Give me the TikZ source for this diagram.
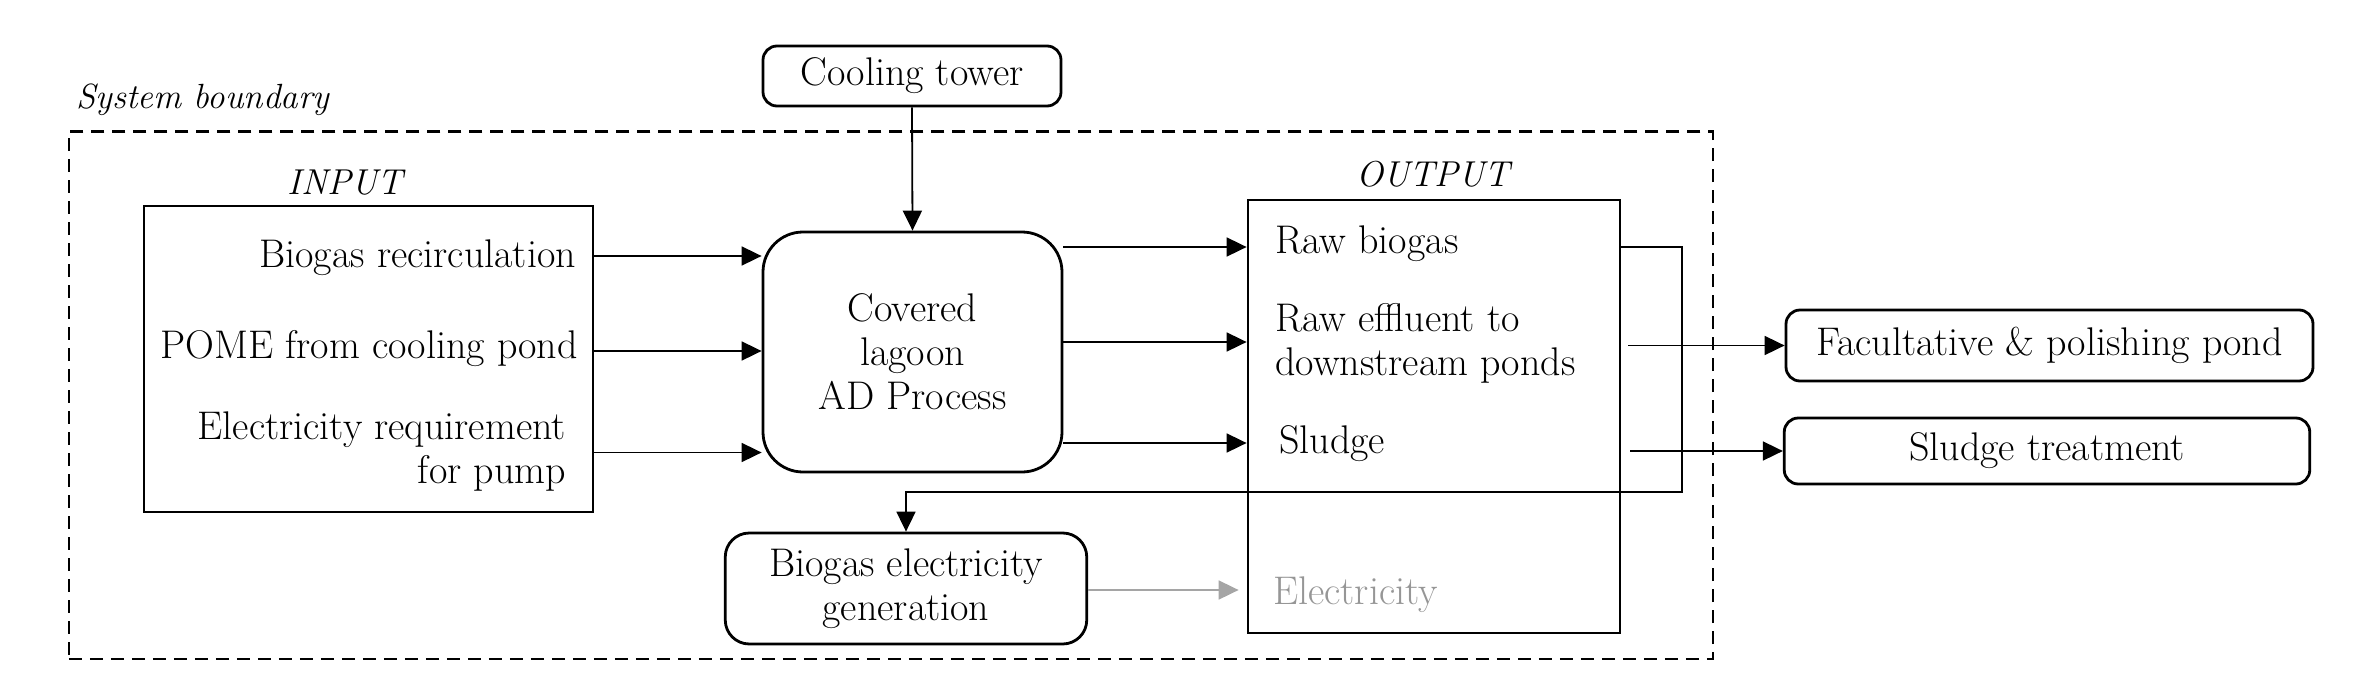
\documentclass[tikz,border=0pt]{standalone}
\usetikzlibrary{arrows.meta}
\definecolor{elgray}{RGB}{150,150,150}
\definecolor{argray}{RGB}{165,165,165}
\begin{document}
\begin{tikzpicture}[x=1pt,y=-1pt,
  txt/.style={font=\fontsize{40}{44}\selectfont, inner sep=0pt},
  rbox/.style={draw, line width=2.8pt, rounded corners=14pt, font=\fontsize{40}{44}\selectfont, align=center, inner sep=0pt},
  sbox/.style={draw, line width=2.8pt, inner sep=0pt},
  conn/.style={line width=1.8pt, -{Triangle[length=20pt,width=19pt]}},
  plain/.style={line width=1.8pt},
  head/.style={font=\fontsize{36}{44}\selectfont\itshape, inner sep=0pt},
]
\useasboundingbox (0,0) rectangle (2354,699);
% system boundary
\node[draw, line width=2.6pt, dash pattern=on 13pt off 8pt, minimum width=1644pt, minimum height=527.5pt, inner sep=0pt] (boundary) at (890.9,395.3) {};
\node[txt, font=\fontsize{35}{44}\selectfont\itshape, anchor=west] (sysb) at (76.5,100) {System boundary};
% top
\node[rbox, minimum width=298pt, minimum height=60pt] (tower) at (912,76) {Cooling tower};
% input
\node[head] (inlab) at (345,183) {INPUT};
\node[sbox, minimum width=449pt, minimum height=306pt] (inbox) at (368.5,359) {};
\node[txt, anchor=east] (in1) at (576,258) {Biogas recirculation};
\node[txt, anchor=east] (in2) at (578,349) {POME from cooling pond};
\node[txt, anchor=east, align=right] (in3) at (566,452) {Electricity requirement\\for pump};
% lagoon
\node[rbox, rounded corners=40pt, minimum width=299pt, minimum height=240pt] (lagoon) at (912.5,352) {Covered\\lagoon\\AD Process};
% output
\node[head] (outlab) at (1433,174) {OUTPUT};
\node[sbox, minimum width=372pt, minimum height=433pt] (outbox) at (1434,416.5) {};
\node[txt, anchor=west] (out1) at (1275,244) {Raw biogas};
\node[txt, anchor=west, align=left] (out2) at (1275,343.5) {Raw effluent to\\downstream ponds};
\node[txt, anchor=west] (out3) at (1279,443.6) {Sludge};
\node[txt, anchor=west, text=elgray] (out4) at (1273,595) {Electricity};
% generation
\node[rbox, rounded corners=24pt, minimum width=361.5pt, minimum height=111pt] (gen) at (906,588.5) {Biogas electricity\\generation};
% right boxes
\node[rbox, minimum width=527pt, minimum height=71pt] (fac) at (2049.5,345.5) {Facultative \& polishing pond};
\node[rbox, minimum width=525.5pt, minimum height=66pt] (sludge) at (2047,451) {Sludge treatment};
% connectors
\draw[conn] (tower.south) -- (lagoon.north);
\draw[conn] (inbox.east |- 0,256) -- (lagoon.west |- 0,256);
\draw[conn] (inbox.east |- 0,351) -- (lagoon.west |- 0,351);
\draw[conn] (inbox.east |- 0,452.5) -- (lagoon.west |- 0,452.5);
\draw[conn] (lagoon.east |- 0,247) -- (outbox.west |- 0,247);
\draw[conn] (lagoon.east |- 0,342) -- (outbox.west |- 0,342);
\draw[conn] (lagoon.east |- 0,443) -- (outbox.west |- 0,443);
\coordinate (r1) at (1682,247);
\coordinate (r2) at (1682,492);
\draw[conn] (outbox.east |- r1) -- (r1) -- (r2) -- (gen.north |- r2) -- (gen.north);
\coordinate (e1) at (1628,345.5);
\coordinate (s1) at (1630,451);
\draw[conn] (e1) -- (fac.west);
\draw[conn] (s1) -- (sludge.west);
\draw[conn, argray, shorten >=8pt] (gen.east |- 0,590) -- (outbox.west |- 0,590);
\end{tikzpicture}
\end{document}
